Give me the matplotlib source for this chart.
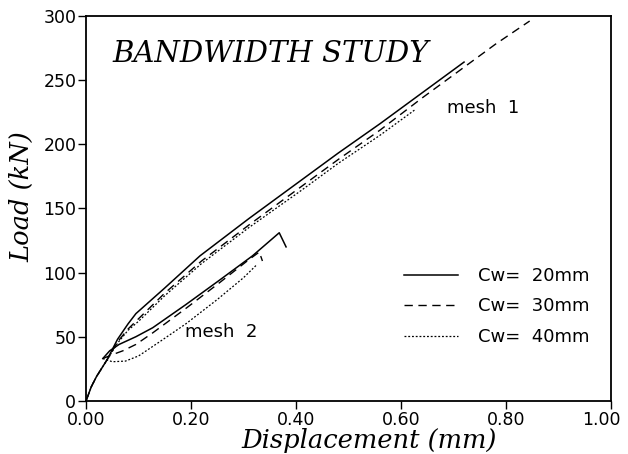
"""Bandwidth study: load vs displacement for two meshes and three Cw values."""

import matplotlib

matplotlib.use("Agg")
import matplotlib.pyplot as plt
from matplotlib.transforms import ScaledTranslation

# mesh 1
m1_x_20 = [0.0, 0.01, 0.02, 0.04, 0.06, 0.08, 0.095, 0.15, 0.217, 0.31, 0.41, 0.48, 0.56, 0.62, 0.67, 0.72]
m1_y_20 = [0, 11, 19, 32, 48, 60, 68, 88, 113, 142, 172, 193, 216, 234, 249, 264]
m1_x_30 = [0.0, 0.01, 0.02, 0.04, 0.06, 0.08, 0.10, 0.15, 0.22, 0.31, 0.41, 0.48, 0.56, 0.64, 0.72, 0.78, 0.845]
m1_y_30 = [0, 11, 19, 32, 46, 56, 64, 84, 109, 137, 167, 188, 211, 236, 260, 278, 296]
m1_x_40 = [0.0, 0.01, 0.02, 0.04, 0.06, 0.08, 0.10, 0.15, 0.22, 0.31, 0.41, 0.48, 0.56, 0.627]
m1_y_40 = [0, 11, 19, 32, 45, 55, 62, 82, 107, 135, 164, 185, 207, 227]

# mesh 2
m2_x_20 = [0.032, 0.045, 0.063, 0.095, 0.127, 0.19, 0.254, 0.317, 0.368, 0.381]
m2_y_20 = [33, 39, 44, 50, 57, 75, 94, 113, 131, 120]
m2_x_30 = [0.032, 0.05, 0.07, 0.095, 0.127, 0.19, 0.254, 0.31, 0.33, 0.336]
m2_y_30 = [33, 36, 39, 44, 53, 72, 92, 110, 116, 109]
m2_x_40 = [0.032, 0.05, 0.075, 0.10, 0.14, 0.19, 0.25, 0.30, 0.325]
m2_y_40 = [33, 30.5, 31, 35, 46, 60, 79, 96, 106]

legend_labels = ["Cw=  20mm", "Cw=  30mm", "Cw=  40mm"]

x_ticks = [0.0, 0.2, 0.4, 0.6, 0.8, 1.0]
y_ticks = [0, 50, 100, 150, 200, 250, 300]

fig = plt.figure(figsize=(6.28, 4.54), dpi=100)
ax = fig.add_axes([0.137, 0.117, 0.836, 0.848])

styles = [
    dict(color="black", lw=1.1, ls="-"),
    dict(color="black", lw=1.0, ls=(0, (6, 4))),
    dict(color="black", lw=0.9, ls=(0, (1.5, 1.5))),
]

handles = []
for (xs, ys), st, lab in zip([(m1_x_20, m1_y_20), (m1_x_30, m1_y_30), (m1_x_40, m1_y_40)], styles, legend_labels):
    (h,) = ax.plot(xs, ys, label=lab, **st)
    handles.append(h)
for (xs, ys), st in zip([(m2_x_20, m2_y_20), (m2_x_30, m2_y_30), (m2_x_40, m2_y_40)], styles):
    ax.plot(xs, ys, **st)

ax.set_xlim(0, 1.0)
ax.set_ylim(0, 300)
ax.set_xticks(x_ticks)
ax.set_xticklabels([f"{v:.2f}" for v in x_ticks])
ax.set_yticks(y_ticks)
ax.tick_params(direction="out", length=6, width=1.0, labelsize=12.5, pad=1)
for sp in ax.spines.values():
    sp.set_linewidth(1.3)

# last x label sits a little left so it stays on the canvas
last = ax.get_xticklabels()[-1]
last.set_transform(last.get_transform() + ScaledTranslation(-7 / 72, 0, fig.dpi_scale_trans))

serif_it = dict(family="DejaVu Serif", style="italic")
ax.set_xlabel("Displacement (mm)", fontsize=18.5, labelpad=0, **serif_it)
ax.xaxis.set_label_coords(0.54, -0.07)
ax.set_ylabel("Load (kN)", fontsize=18.5, labelpad=0, **serif_it)
ax.yaxis.set_label_coords(-0.098, 0.53)

ax.text(0.05, 0.9, "BANDWIDTH STUDY", transform=ax.transAxes, fontsize=21,
        family="DejaVu Serif", style="italic", va="center", ha="left")
ax.text(0.688, 228, "mesh  1", fontsize=13, va="center")
ax.text(0.189, 54, "mesh  2", fontsize=13, va="center")

ax.legend(handles=handles, loc="lower right", bbox_to_anchor=(0.99, 0.1), frameon=False,
          fontsize=13, handlelength=3.0, handletextpad=1.1, labelspacing=0.7)

fig.savefig("out.png", dpi=100)
